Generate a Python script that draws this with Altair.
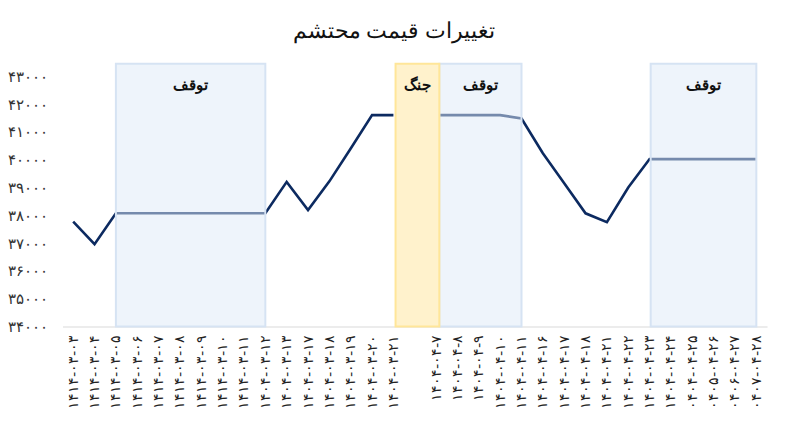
import json
import altair as alt
import pandas as pd

# ---------------- data ----------------
x_labels = [
    "۱۴۱۴-۰۳-۰۳", "۱۴۱۴-۰۳-۰۴", "۱۴۱۴-۰۳-۰۵", "۱۴۱۴-۰۳-۰۶", "۱۴۱۴-۰۳-۰۷",
    "۱۴۱۴-۰۳-۰۸", "۱۴۱۴-۰۳-۰۹", "۱۴۱۴-۰۳-۱۰", "۱۴۱۴-۰۳-۱۱", "۱۴۰۴-۰۳-۱۲",
    "۱۴۰۴-۰۳-۱۳", "۱۴۰۴-۰۳-۱۷", "۱۴۰۴-۰۳-۱۸", "۱۴۰۴-۰۳-۱۹", "۱۴۰۴-۰۳-۲۰",
    "۱۴۰۴-۰۳-۲۱", "",
    "۱۴۰۴-۰۴-۷", "۱۴۰۴-۰۴-۸", "۱۴۰۴-۰۴-۹", "۱۴۰۴-۰۴-۱۰", "۱۴۰۴-۰۴-۱۱",
    "۱۴۰۴-۰۴-۱۶", "۱۴۰۴-۰۴-۱۷", "۱۴۰۴-۰۴-۱۸", "۱۴۰۴-۰۴-۲۱", "۱۴۰۴-۰۴-۲۲",
    "۱۴۰۴-۰۴-۲۳", "۱۴۰۴-۰۴-۲۴", "۰۴۰۴-۰۴-۲۵", "۰۴۰۵-۰۴-۲۶", "۰۴۰۶-۰۴-۲۷",
    "۰۴۰۷-۰۴-۲۸",
]
prices = [
    37770, 36960, 38070, 38070, 38070, 38070, 38070, 38070, 38070, 38070,
    39200, 38190, 39220, 40400, 41600, 41600, None,
    41600, 41600, 41600, 41600, 41480, 40230, 39150, 38070, 37750, 39000,
    40020, 40020, 40020, 40020, 40020, 40020,
]
segment = [0] * 16 + [None] + [1] * 16

band_start = [2, 15.1, 17.15, 27.05]
band_end = [9, 17.15, 21, 32]
band_kind = ["halt", "war", "halt", "halt"]
band_text = ["توقف", "جنگ", "توقف", "توقف"]

y_ticks = [34000, 35000, 36000, 37000, 38000, 39000, 40000, 41000, 42000, 43000]
y_tick_labels = ["۳۴۰۰۰", "۳۵۰۰۰", "۳۶۰۰۰", "۳۷۰۰۰", "۳۸۰۰۰",
                 "۳۹۰۰۰", "۴۰۰۰۰", "۴۱۰۰۰", "۴۲۰۰۰", "۴۳۰۰۰"]

title_text = "تغییرات قیمت محتشم"

# ---------------- tables ----------------
line_df = pd.DataFrame({"i": list(range(len(prices))), "price": prices, "seg": segment})
line_df = line_df.dropna(subset=["price"])

band_df = pd.DataFrame({"start": band_start, "end": band_end,
                        "kind": band_kind, "label": band_text})

LRO, PDF = "\u202d", "\u202c"
x_expr = "[" + ",".join(json.dumps(LRO + s + PDF if s else "", ensure_ascii=False)
                        for s in x_labels) + "][datum.value]"
y_expr = "[" + ",".join(json.dumps(s, ensure_ascii=False) for s in y_tick_labels) + \
    "][round((datum.value-34000)/1000)]"

FONT = "Liberation Serif"
NAVY = "#0c2a60"

x_scale = alt.Scale(domain=[-0.5, 32.5], nice=False, zero=False)
y_scale = alt.Scale(domain=[34000, 43000], nice=False, zero=False)

x_axis = alt.Axis(values=list(range(len(x_labels))), labelExpr=x_expr,
                  labelAngle=270, labelOverlap=False, labelFontSize=14.5,
                  labelColor="#222222", labelFont=FONT, labelPadding=8,
                  ticks=False, grid=False, domainColor="#d9d9d9", domainWidth=1.2,
                  title=None)
y_axis = alt.Axis(values=y_ticks, labelExpr=y_expr, labelFontSize=15,
                  labelColor="#333333", labelFont=FONT, labelPadding=15,
                  labelOverlap=False, ticks=False, grid=False, domain=False, title=None)

line = alt.Chart(line_df).mark_line(color=NAVY, strokeWidth=2.6).encode(
    x=alt.X("i:Q", scale=x_scale, axis=x_axis),
    y=alt.Y("price:Q", scale=y_scale, axis=y_axis),
    detail="seg:N",
)

halt = alt.Chart(band_df).transform_filter("datum.kind == 'halt'").mark_rect(
    fill="#dde9f7", fillOpacity=0.5, stroke="#d6e3f3", strokeWidth=2
).encode(
    x=alt.X("start:Q", scale=x_scale, axis=x_axis), x2="end:Q",
    y=alt.Y(datum=43450, scale=y_scale, axis=y_axis), y2=alt.datum(34000),
)

war = alt.Chart(band_df).transform_filter("datum.kind == 'war'").mark_rect(
    fill="#fff2cc", fillOpacity=1, stroke="#ffe699", strokeWidth=2
).encode(
    x=alt.X("start:Q", scale=x_scale, axis=x_axis), x2="end:Q",
    y=alt.Y(datum=43450, scale=y_scale, axis=y_axis), y2=alt.datum(34000),
)

texts = alt.Chart(band_df).transform_calculate(
    mid="(datum.start + datum.end) / 2"
).mark_text(font=FONT, fontSize=15, fontWeight="bold", color="#111111",
            baseline="middle", align="center").encode(
    x=alt.X("mid:Q", scale=x_scale, axis=x_axis),
    y=alt.Y(datum=42680, scale=y_scale, axis=y_axis),
    text="label:N",
)

chart = alt.layer(line, halt, war, texts).properties(
    width=705.6, height=250.7,
    title=alt.TitleParams(title_text, font=FONT, fontSize=22.5, fontWeight="normal",
                          color="#111111", offset=20, dx=-21, anchor="middle"),
    autosize=alt.AutoSizeParams(type="none"),
    padding={"left": 54.6, "top": 68, "right": 10, "bottom": 90},
).configure_view(stroke=None).configure_axis(labelOverlap=False)

chart.save("out.html", embed_options={"renderer": "svg", "actions": False})
